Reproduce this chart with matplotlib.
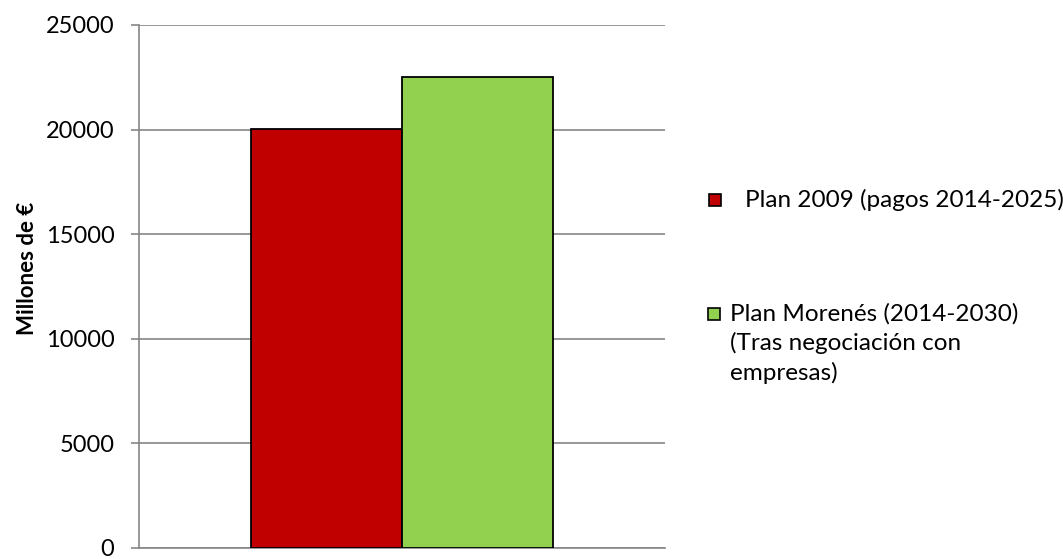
import matplotlib.pyplot as plt
from matplotlib.patches import Rectangle

plt.rcParams['font.family'] = ['Lato', 'DejaVu Sans']

series = ['Plan 2009 (pagos 2014-2025)',
          'Plan Morenés (2014-2030)\n(Tras negociación con\nempresas)']
values = [20050, 22500]
colors = ['#C00000', '#92D050']
yticks = [0, 5000, 10000, 15000, 20000, 25000]

fig = plt.figure(figsize=(10.63, 5.59), dpi=100)
ax = fig.add_axes([0.1308, 0.0197, 0.4948, 0.9356])

w = 0.287
pos = [-w / 2, w / 2]
ax.bar(pos, values, width=w, color=colors, edgecolor='black', linewidth=1.3, zorder=3)

ax.set_xlim(-0.5, 0.5)
ax.set_ylim(0, 25000)
ax.set_yticks(yticks)
ax.set_xticks([])
ax.yaxis.grid(True, color='#868686', linewidth=1.2, zorder=0)
ax.tick_params(axis='y', length=5.8, width=1.2, color='#868686', pad=12, labelsize=17)
for s in ['top', 'right']:
    ax.spines[s].set_visible(False)
for s in ['left', 'bottom']:
    ax.spines[s].set_color('#868686')
    ax.spines[s].set_linewidth(1.2)
ax.set_ylabel('Millones de €', fontsize=16, fontweight='bold')
ax.yaxis.set_label_coords(-0.192, 0.535)

# legend drawn at the right, first line of each entry beside its key
key_y = [200, 314]
text_x = [745, 730]
for i, lab in enumerate(series):
    y = key_y[i]
    fig.patches.append(Rectangle(((709 - i) / 1063, 1 - (y + 6) / 559), 12 / 1063, 12 / 559,
                                 transform=fig.transFigure, facecolor=colors[i],
                                 edgecolor='black', linewidth=1.2))
    fig.text(text_x[i] / 1063, 1 - (y - 11) / 559, lab, fontsize=17.5, va='top', ha='left',
             linespacing=1.42)

fig.savefig('out.png', dpi=100)
